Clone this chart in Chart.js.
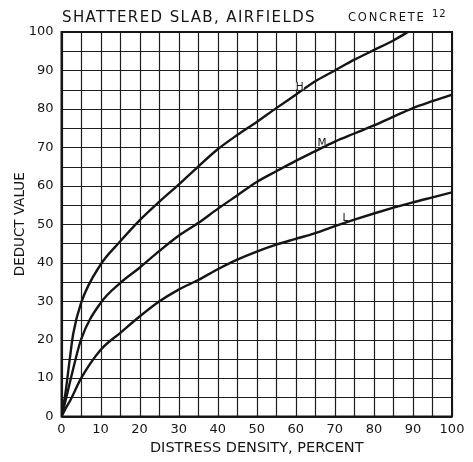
<!DOCTYPE html>
<html>
<head>
<meta charset="utf-8">
<script src="https://cdn.jsdelivr.net/npm/chart.js@4.4.0/dist/chart.umd.min.js"></script>
<style>
  html, body { margin: 0; padding: 0; background: #fff; }
</style>
</head>
<body>
<canvas id="deductChart" width="473" height="462"></canvas>
<script>
// values (distress density %, deduct value)
const densityH = [0, 1, 2, 3, 5, 10, 15, 20, 25, 30, 35, 40, 45, 50, 55, 60, 65, 70, 75, 80, 85, 88.7];
const deductH  = [0, 6, 14, 21.5, 29.5, 39.5, 45.5, 51, 55.8, 60.3, 65, 69.5, 73.2, 76.6, 80.2, 83.7, 87.2, 90, 92.8, 95.3, 97.8, 100];

const densityM = [0, 1, 2.3, 5, 10, 15, 20, 25, 30, 35, 40, 45, 50, 55, 60, 65, 70, 75, 80, 85, 90, 95, 100];
const deductM  = [0, 4, 9.5, 20, 29.5, 34.7, 38.7, 43, 47, 50.3, 54, 57.5, 61, 63.8, 66.5, 69, 71.5, 73.6, 75.7, 78, 80.2, 82, 83.7];

const densityL = [0, 1, 2.3, 5, 10, 15, 20, 25, 30, 35, 40, 45, 50, 55, 60, 65, 70, 75, 80, 85, 90, 95, 100];
const deductL  = [0, 2, 4.3, 9.9, 17.3, 21.7, 26, 29.9, 33, 35.5, 38.3, 40.8, 42.9, 44.7, 46.2, 47.7, 49.5, 51.2, 52.8, 54.3, 55.7, 57, 58.3];

const severityNames = ["H", "M", "L"];
const severityLabelAt = [61, 66.7, 72.7]; // density where the letter sits on its curve

const gridValues = [0, 5, 10, 15, 20, 25, 30, 35, 40, 45, 50, 55, 60, 65, 70, 75, 80, 85, 90, 95, 100];
const labelStep = 10;

const ink = "#151515";

function toPoints(xs, ys) {
    return xs.map((x, i) => ({ x: x, y: ys[i] }));
}

function valueAt(xs, ys, x) {
    for (let i = 1; i < xs.length; i++) {
        if (x <= xs[i]) {
            const t = (x - xs[i - 1]) / (xs[i] - xs[i - 1]);
            return ys[i - 1] + t * (ys[i] - ys[i - 1]);
        }
    }
    return ys[ys.length - 1];
}

function curve(label, xs, ys) {
    return {
        label: label,
        data: toPoints(xs, ys),
        borderColor: ink,
        borderWidth: 2.4,
        pointRadius: 0,
        fill: false,
        cubicInterpolationMode: "monotone"
    };
}

// graph-paper grid every 5 units, heavier outer frame
const paperGrid = {
    id: "paperGrid",
    beforeDatasetsDraw(chart) {
        const a = chart.chartArea, ctx = chart.ctx;
        const xs = chart.scales.x, ys = chart.scales.y;
        ctx.save();
        ctx.strokeStyle = "#1e1e1e";
        ctx.lineWidth = 1.2;
        ctx.beginPath();
        gridValues.forEach((v) => {
            const px = Math.round(xs.getPixelForValue(v)) + 0.5;
            ctx.moveTo(px, a.top);
            ctx.lineTo(px, a.bottom);
            const py = Math.round(ys.getPixelForValue(v)) + 0.5;
            ctx.moveTo(a.left, py);
            ctx.lineTo(a.right, py);
        });
        ctx.stroke();
        ctx.strokeStyle = ink;
        ctx.lineWidth = 2;
        ctx.strokeRect(a.left, a.top, a.right - a.left, a.bottom - a.top);
        ctx.restore();
    }
};

// text that is not part of an axis: chart title, sheet tag, curve letters
const annotations = {
    id: "annotations",
    afterDatasetsDraw(chart) {
        const ctx = chart.ctx;
        const xs = chart.scales.x, ys = chart.scales.y;
        const series = [[densityH, deductH], [densityM, deductM], [densityL, deductL]];

        ctx.save();
        ctx.fillStyle = ink;
        ctx.textAlign = "center";
        ctx.textBaseline = "alphabetic";
        ctx.font = "10.5px 'DejaVu Sans'";
        series.forEach((s, i) => {
            const xv = severityLabelAt[i];
            const px = xs.getPixelForValue(xv);
            const py = ys.getPixelForValue(valueAt(s[0], s[1], xv));
            ctx.fillStyle = "#fff";
            ctx.fillRect(px - 4, py - 9.5, 8, 7);
            ctx.fillStyle = ink;
            ctx.fillText(severityNames[i], px, py - 1.5);
        });

        ctx.textAlign = "left";
        ctx.font = "15px 'DejaVu Sans'";
        ctx.letterSpacing = "1.4px";
        ctx.fillText("SHATTERED SLAB, AIRFIELDS", 62, 21.5);

        ctx.font = "11.5px 'DejaVu Sans'";
        ctx.letterSpacing = "1.8px";
        ctx.fillText("CONCRETE", 348, 21);

        ctx.font = "10px 'DejaVu Sans'";
        ctx.letterSpacing = "1px";
        ctx.fillText("12", 432, 16.5);
        ctx.restore();
    }
};

const tickFont = { family: "'DejaVu Sans'", size: 13 };

new Chart(document.getElementById("deductChart").getContext("2d"), {
    type: "line",
    data: {
        datasets: [
            curve("H", densityH, deductH),
            curve("M", densityM, deductM),
            curve("L", densityL, deductL)
        ]
    },
    options: {
        responsive: false,
        animation: false,
        devicePixelRatio: 1,
        layout: { padding: { top: 32, right: 21, left: 0, bottom: 0 } },
        plugins: {
            legend: { display: false },
            tooltip: { enabled: false }
        },
        scales: {
            x: {
                type: "linear",
                min: 0,
                max: 100,
                afterFit: (s) => { s.height = 45.5; },
                ticks: {
                    stepSize: labelStep,
                    autoSkip: false,
                    maxRotation: 0,
                    padding: 5,
                    color: ink,
                    font: tickFont
                },
                grid: { display: false, drawTicks: false },
                border: { display: false },
                title: {
                    display: true,
                    text: "DISTRESS DENSITY, PERCENT",
                    color: ink,
                    font: { family: "'DejaVu Sans'", size: 14.5 },
                    padding: { top: 0, bottom: 5 }
                }
            },
            y: {
                type: "linear",
                min: 0,
                max: 100,
                afterFit: (s) => { s.width = 61.5; },
                ticks: {
                    stepSize: labelStep,
                    autoSkip: false,
                    padding: 8,
                    color: ink,
                    font: tickFont
                },
                grid: { display: false, drawTicks: false },
                border: { display: false },
                title: {
                    display: true,
                    text: "DEDUCT VALUE",
                    color: ink,
                    font: { family: "'DejaVu Sans'", size: 13.5 },
                    padding: { top: 12, bottom: 0 }
                }
            }
        }
    },
    plugins: [paperGrid, annotations]
});
</script>
</body>
</html>
